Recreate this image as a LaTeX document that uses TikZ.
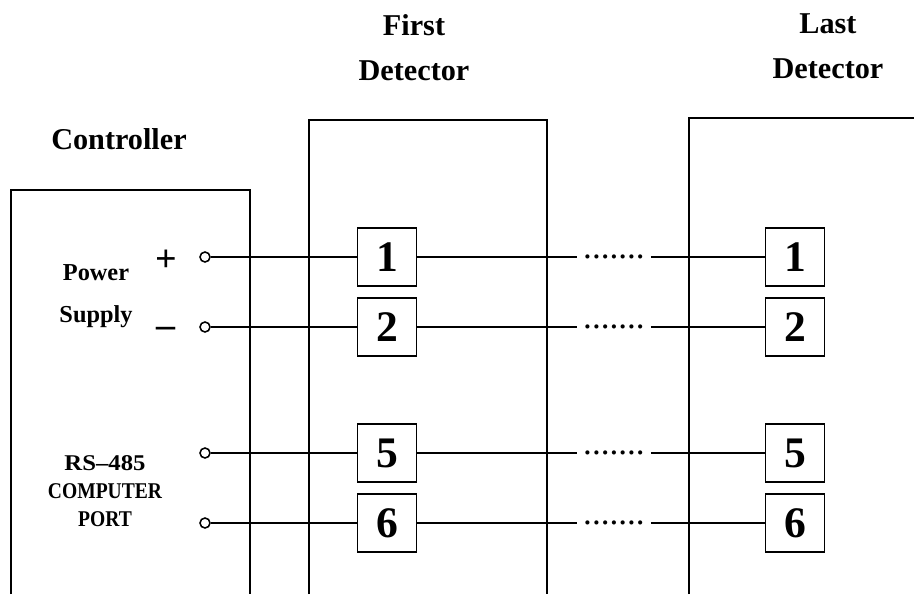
\documentclass[tikz,border=0pt]{standalone}
\usepackage{fontspec}
\setmainfont{Liberation Serif}
\newcommand{\narrow}[2][0.85]{\scalebox{#1}[1]{#2}}
\tikzset{
	pin/.style={draw,fill=white,minimum width=1.47cm,minimum height=1.45cm,inner sep=0pt,font=\fontsize{31}{34}\selectfont\bfseries},
	term/.style={draw,circle,inner sep=0pt,minimum size=0.25cm},
	dots/.style={inner sep=0pt,minimum width=1.8cm,font=\fontsize{25}{26}\selectfont},
	title/.style={font=\fontsize{21.5}{32}\selectfont\bfseries,align=center,inner sep=0pt},
	small/.style={font=\fontsize{17.3}{20}\selectfont\bfseries,align=center,inner sep=0pt},
	port/.style={font=\fontsize{16}{20}\selectfont\bfseries,align=center,inner sep=0pt},
	sign/.style={font=\fontsize{27}{28}\selectfont\bfseries,inner sep=0pt}
}
\begin{document}
\begin{tikzpicture}[line width=1.1pt,x=0.025cm,y=-0.025cm]
	\useasboundingbox (0,0) rectangle (914,594);
	% three boxes, cut off at the foot of the page
	\draw (11,594)--(11,190)--(250,190)--(250,594);
	\draw (309,594)--(309,120)--(547,120)--(547,594);
	\draw (689,594)--(689,118)--(914,118);
	\node[title] (ctrl) at (119,139) {Controller};
	\node[title] (first) at (414,48) {First\\Detector};
	\node[title] (last) at (828,46) {Last\\Detector};
	\node[small] (power) at (96,273) {Power};
	\node[small] (supply) at (96,317) {Supply};
	\node[port] (rsport) at (105,491) {\narrow[1.1]{RS--485}\\\narrow[0.87]{COMPUTER}\\\narrow[0.87]{PORT}};
	\node[sign] (plus) at (166,261) {+};
	\node[sign] (minus) at (166,332) {--};
	\foreach \n/\y in {1/257,2/327,5/453,6/523}{
		\node[term] (t\n) at (205,\y) {};
		\node[pin] (a\n) at (387,\y) {\n};
		\node[pin] (b\n) at (795,\y) {\n};
		\node[dots] (d\n) at (614,\y) {.......};
		\draw (t\n)--(a\n);
		\draw (a\n)--(d\n)--(b\n);
	}
\end{tikzpicture}
\end{document}
